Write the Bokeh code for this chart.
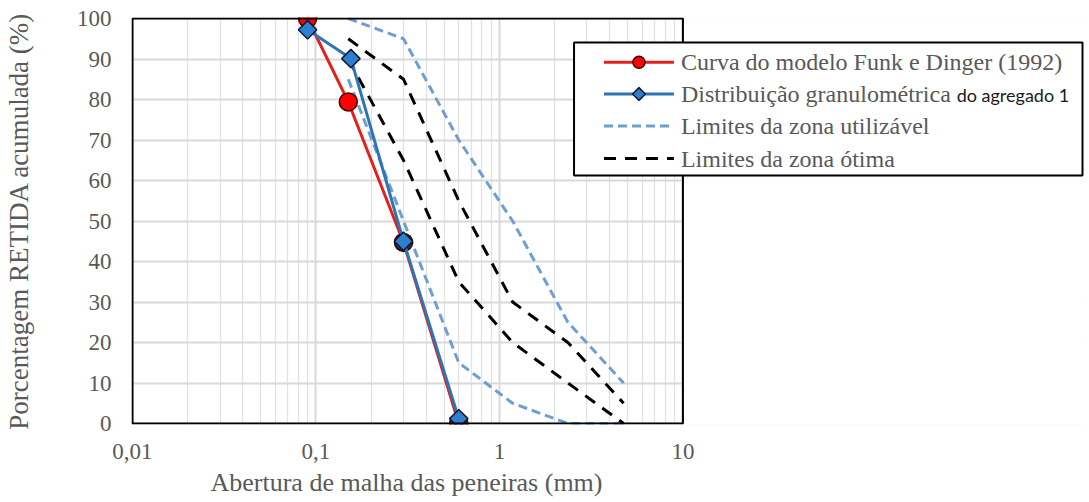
import math
from bokeh.plotting import figure
from bokeh.models import FixedTicker, Label, Title, ColumnDataSource
from bokeh.embed import file_html
from bokeh.resources import INLINE

# ---------------- data ----------------
funk_x = [0.09, 0.15, 0.3, 0.6]
funk_y = [100.0, 79.4, 44.7, 0.0]
funk_fill = ["#ff0000", "#ff0000", "#1c2f57", "#ff0000"]

agreg_x = [0.09, 0.155, 0.3, 0.6]
agreg_y = [97.2, 90.1, 45.0, 1.2]

sieves = [0.15, 0.3, 0.6, 1.18, 2.36, 4.75]
util_upper = [100, 95, 70, 50, 25, 10]
util_lower = [85, 50, 15, 5, 0, 0]
otima_upper = [95, 85, 55, 30, 20, 5]
otima_lower = [90, 65, 35, 20, 10, 0]

x_ticks = [0.01, 0.1, 1, 10]
x_tick_labels = ["0,01", "0,1", "1", "10"]
y_ticks = list(range(0, 101, 10))

labels = ["Curva do modelo Funk e Dinger (1992)",
          "Distribuição granulométrica",
          "Limites da zona utilizável",
          "Limites da zona ótima"]
label_suffix = "do agregado 1"
x_title = "Abertura de malha das peneiras (mm)"
y_title = "Porcentagem RETIDA acumulada (%)"

# ---------------- layout helpers (pixels) ----------------
X_MIN, X_MAX, Y_MIN, Y_MAX = 0.01, 10, 0, 100
PX_DEC = 183.67          # pixels per decade on x
PX_UNIT = 4.05           # pixels per percent on y
FRAME_LEFT = 130         # 1 px left of 0.01
FRAME_RIGHT = 1085       # frame extended under the legend
x_start = 10 ** (math.log10(X_MIN) - 1 / PX_DEC)
x_end = 10 ** (math.log10(X_MIN) + (FRAME_RIGHT - FRAME_LEFT - 1) / PX_DEC)
y_pad = 1 / PX_UNIT


def xdata(px):
    return 10 ** (math.log10(X_MIN) + (px - FRAME_LEFT - 1) / PX_DEC)


def ydata(py):
    return Y_MAX - (py - 18) / PX_UNIT


FONT = "Liberation Serif"
GRAY = "#595959"
LBLUE = "#6d9fd2"
RED = "#e3201c"
BLUE = "#2e75b6"
DFILL = "#2f7fcf"

p = figure(width=1089, height=502, x_axis_type="log",
           x_range=(x_start, x_end), y_range=(Y_MIN - y_pad, Y_MAX + y_pad),
           output_backend="svg", toolbar_location=None,
           min_border_left=FRAME_LEFT, min_border_right=1089 - FRAME_RIGHT,
           min_border_top=17, min_border_bottom=78)
p.background_fill_color = "white"
p.border_fill_color = "white"
p.outline_line_color = None

minor = [m * d for d in [0.01, 0.1, 1] for m in range(2, 10)]
p.xaxis.ticker = FixedTicker(ticks=x_ticks, minor_ticks=minor)
p.xaxis.major_label_overrides = {t: l for t, l in zip(x_ticks, x_tick_labels)}
p.yaxis.ticker = FixedTicker(ticks=y_ticks)

for ax in (p.xaxis[0], p.yaxis[0]):
    ax.axis_line_color = None
    ax.major_tick_line_color = None
    ax.minor_tick_line_color = None
    ax.major_tick_out = 0
    ax.major_tick_in = 0
    ax.minor_tick_out = 0
    ax.minor_tick_in = 0
    ax.major_label_text_font = FONT
    ax.major_label_text_font_size = "23px"
    ax.major_label_text_color = GRAY

p.yaxis.axis_label = y_title
p.yaxis.axis_label_text_font = FONT
p.yaxis.axis_label_text_font_size = "27px"
p.yaxis.axis_label_text_color = GRAY
p.yaxis.axis_label_text_font_style = "normal"
p.yaxis.major_label_standoff = 20
p.yaxis.axis_label_standoff = 40
p.xaxis.major_label_standoff = 19

p.add_layout(Title(text=x_title, align="left", offset=79, standoff=8,
                   text_font=FONT, text_font_size="26px", text_color=GRAY,
                   text_font_style="normal"), "below")

p.xgrid.ticker = FixedTicker(ticks=x_ticks, minor_ticks=minor)
p.xgrid.grid_line_color = "#d9d9d9"
p.xgrid.grid_line_width = 2
p.xgrid.minor_grid_line_color = "#e2e2e2"
p.xgrid.minor_grid_line_width = 1.3
p.ygrid.ticker = FixedTicker(ticks=y_ticks)
p.ygrid.grid_line_color = "#d9d9d9"
p.ygrid.grid_line_width = 2

# white area to the right of the plot box (frame extends under the legend)
p.quad(left=[X_MAX], right=[x_end * 2], bottom=[Y_MIN - 10], top=[Y_MAX + 10],
       fill_color="white", line_color=None)

# ---------------- series ----------------
p.line(sieves, util_upper, line_color=LBLUE, line_width=3, line_dash="9 5")
p.line(sieves, util_lower, line_color=LBLUE, line_width=3, line_dash="9 5")
p.line(sieves, otima_upper, line_color="black", line_width=3, line_dash="12 9")
p.line(sieves, otima_lower, line_color="black", line_width=3, line_dash="12 9")

p.line(funk_x, funk_y, line_color=RED, line_width=3)
r_src = ColumnDataSource(dict(x=funk_x, y=funk_y, c=funk_fill))
p.scatter("x", "y", source=r_src, marker="circle", size=18,
          fill_color="c", line_color="#3a0000", line_width=1.5)
p.line(agreg_x, agreg_y, line_color=BLUE, line_width=3)
p.scatter(agreg_x, agreg_y, marker="square", size=13, angle=math.pi / 4,
          fill_color=DFILL, line_color="#0d1a33", line_width=1.5)

# plot box
p.quad(left=[X_MIN], right=[X_MAX], bottom=[Y_MIN], top=[Y_MAX],
       fill_color=None, line_color="black", line_width=2)

# ---------------- legend (drawn by hand so it can overlap the box edge) ----------------
p.quad(left=[xdata(573)], right=[xdata(1082)], bottom=[ydata(175)], top=[ydata(42)],
       fill_color="white", line_color="black", line_width=2)
rows = [61.7, 93.5, 125.5, 158]
gx0, gx1, gxm, tx = xdata(603), xdata(673), xdata(638), 680
p.line([gx0, gx1], [ydata(rows[0])] * 2, line_color=RED, line_width=3)
p.scatter([gxm], [ydata(rows[0])], marker="circle", size=12,
          fill_color="#ff0000", line_color="#3a0000", line_width=1.5)
p.line([gx0, gx1], [ydata(rows[1])] * 2, line_color=BLUE, line_width=3)
p.scatter([gxm], [ydata(rows[1])], marker="square", size=9, angle=math.pi / 4,
          fill_color=DFILL, line_color="#0d1a33", line_width=1.5)
p.line([gx0, gx1], [ydata(rows[2])] * 2, line_color=LBLUE, line_width=3, line_dash="9 5")
p.line([gx0, gx1], [ydata(rows[3])] * 2, line_color="black", line_width=3, line_dash="12 9")

for lab, ry in zip(labels, rows):
    p.add_layout(Label(x=xdata(tx), y=ydata(ry), text=lab,
                       text_font=FONT, text_font_size="24px", text_color=GRAY,
                       text_baseline="middle", text_align="left"))
p.add_layout(Label(x=xdata(956), y=ydata(rows[1] + 1), text=label_suffix,
                   text_font="Lato", text_font_size="18px",
                   text_color="#1a1a1a", text_baseline="middle", text_align="left"))

open("out.html", "w").write(file_html(p, INLINE))
